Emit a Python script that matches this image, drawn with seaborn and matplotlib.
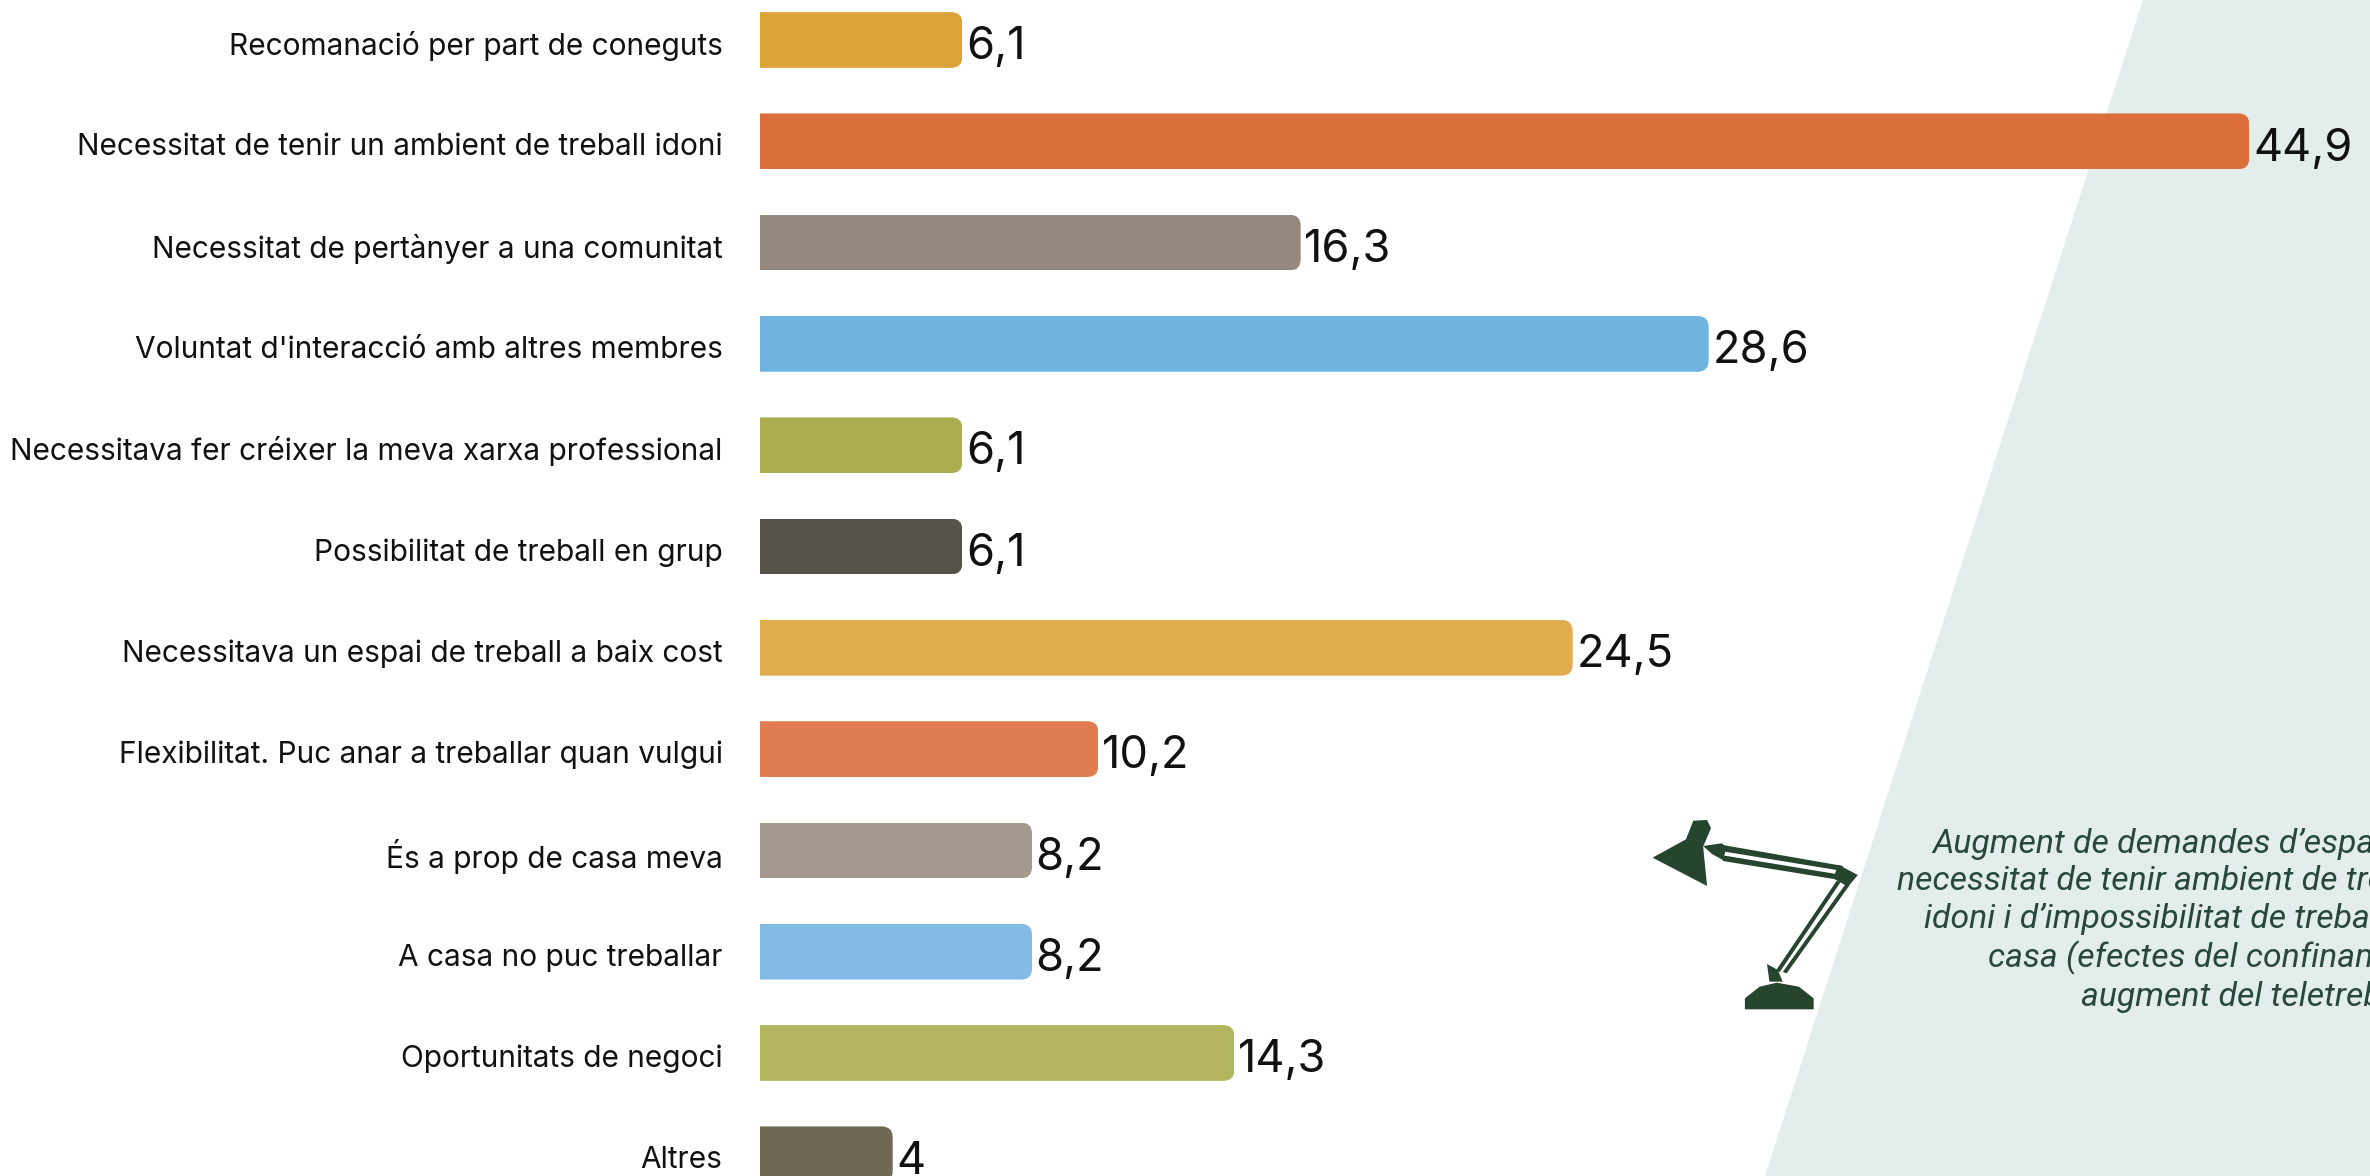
import matplotlib
matplotlib.use("Agg")
import matplotlib.pyplot as plt
import seaborn as sns
import pandas as pd
from matplotlib.patches import FancyBboxPatch, Polygon
from matplotlib.transforms import Affine2D, IdentityTransform, ScaledTranslation

categories = ["Recomanació per part de coneguts", "Necessitat de tenir un ambient de treball idoni",
              "Necessitat de pertànyer a una comunitat", "Voluntat d'interacció amb altres membres",
              "Necessitava fer créixer la meva xarxa professional", "Possibilitat de treball en grup",
              "Necessitava un espai de treball a baix cost", "Flexibilitat. Puc anar a treballar quan vulgui",
              "És a prop de casa meva", "A casa no puc treballar", "Oportunitats de negoci", "Altres"]
values = [6.1, 44.9, 16.3, 28.6, 6.1, 6.1, 24.5, 10.2, 8.2, 8.2, 14.3, 4]
value_labels = ["6,1", "44,9", "16,3", "28,6", "6,1", "6,1", "24,5", "10,2", "8,2", "8,2", "14,3", "4"]
colors = ["#DCA338", "#DB6B35", "#94897E", "#70B4E0", "#ABAD4E", "#57534A",
          "#E0AC4E", "#E07D50", "#A39A8D", "#83BBE5", "#B3B65E", "#6F6852"]
note_lines = ["Augment de demandes d’espai, de", "necessitat de tenir ambient de treball",
              "idoni i d’impossibilitat de treballar a", "casa (efectes del confinament i",
              "augment del teletreball)"]

W, H = 2370, 1176
X0 = 760
sns.set_theme(style="white")
plt.rcParams["font.family"] = ["Inter", "DejaVu Sans"]
fig = plt.figure(figsize=(W / 100, H / 100), dpi=100, facecolor="white")
ax = fig.add_axes([X0 / W, 0, 1 - X0 / W, 1])
ax.set_facecolor("none")

df = pd.DataFrame({"cat": categories, "val": values})
sns.barplot(data=df, y="cat", x="val", hue="cat", palette=colors, dodge=False, legend=False,
            width=0.55, saturation=1, ax=ax, zorder=3)

PX_PER_UNIT = 33.17
ax.set_xlim(0, (W - X0) / PX_PER_UNIT)
ax.set_ylim((H - 40) / 101.3, -40 / 101.3)
ax.set_xlabel("")
ax.set_ylabel("")
ax.set_xticks([])
ax.tick_params(axis="y", length=0, pad=27, labelsize=21.5, labelcolor="#111111")
for s in ax.spines.values():
    s.set_visible(False)

# nudge the category labels down to sit on the reference baselines
shift = ScaledTranslation(0, -3 / 100, fig.dpi_scale_trans)
for lab in ax.get_yticklabels():
    lab.set_transform(lab.get_transform() + shift)

# pixel coordinates of the reference (origin top-left) for decoration only
px = Affine2D().scale(1, -1).translate(0, H) + IdentityTransform()

fig.canvas.draw()
for container, lab in zip(ax.containers, value_labels):
    anns = ax.bar_label(container, labels=[lab], padding=3, fontsize=32.5, color="#111111",
                        fontweight="normal", zorder=5)
    for a in anns:
        a.xyann = (2.6, -5.2)
    for bar in container:
        bb = bar.get_window_extent()
        clip = FancyBboxPatch((bb.x0 - 30, bb.y0), bb.width + 30, bb.height,
                              boxstyle="round,pad=0,rounding_size=11", transform=IdentityTransform())
        bar.set_clip_path(clip)
        bar.set_linewidth(0)
ax.containers[1][0].set_alpha(0.97)

bg = "#E3EDEB"
ax.add_patch(Polygon([(2143, 0), (W, 0), (W, H), (1765, H)], closed=True, transform=px,
                     facecolor=bg, edgecolor="none", zorder=1, clip_on=False))

# desk lamp decoration
lamp = "#26452F"
fx = lambda z: 1600 + z / 2.036
fy = lambda z: 760 + z / 3
def poly(pts):
    ax.add_patch(Polygon([(fx(a), fy(b)) for a, b in pts], closed=True, transform=px,
                         facecolor=lamp, edgecolor="none", zorder=4, clip_on=False))
poly([(190, 182), (218, 180), (226, 205), (210, 260), (218, 378), (107, 293), (175, 238)])
poly([(295, 748), (295, 715), (325, 680), (360, 668), (405, 680), (435, 715), (435, 748)])
poly([(210, 258), (248, 250), (258, 262), (250, 300), (228, 282)])
poly([(250, 255), (495, 318), (490, 332), (250, 274)])
poly([(250, 286), (485, 343), (480, 358), (250, 303)])
poly([(485, 314), (525, 345), (505, 380), (475, 355)])
poly([(482, 362), (490, 366), (366, 636), (358, 632)])
poly([(500, 372), (508, 376), (380, 640), (372, 636)])
poly([(340, 612), (362, 630), (372, 665), (345, 665)])

note_x = [1932, 1897, 1924, 1988, 2081]
note_y = [853, 890, 928, 967, 1006]
for line, nx, ny in zip(note_lines, note_x, note_y):
    ax.text(nx, ny, line, transform=px, ha="left", va="baseline", style="italic", fontsize=24.3,
            family=["Roboto"], color="#27483A", zorder=6)

fig.savefig("out.png", dpi=100, facecolor="white")
